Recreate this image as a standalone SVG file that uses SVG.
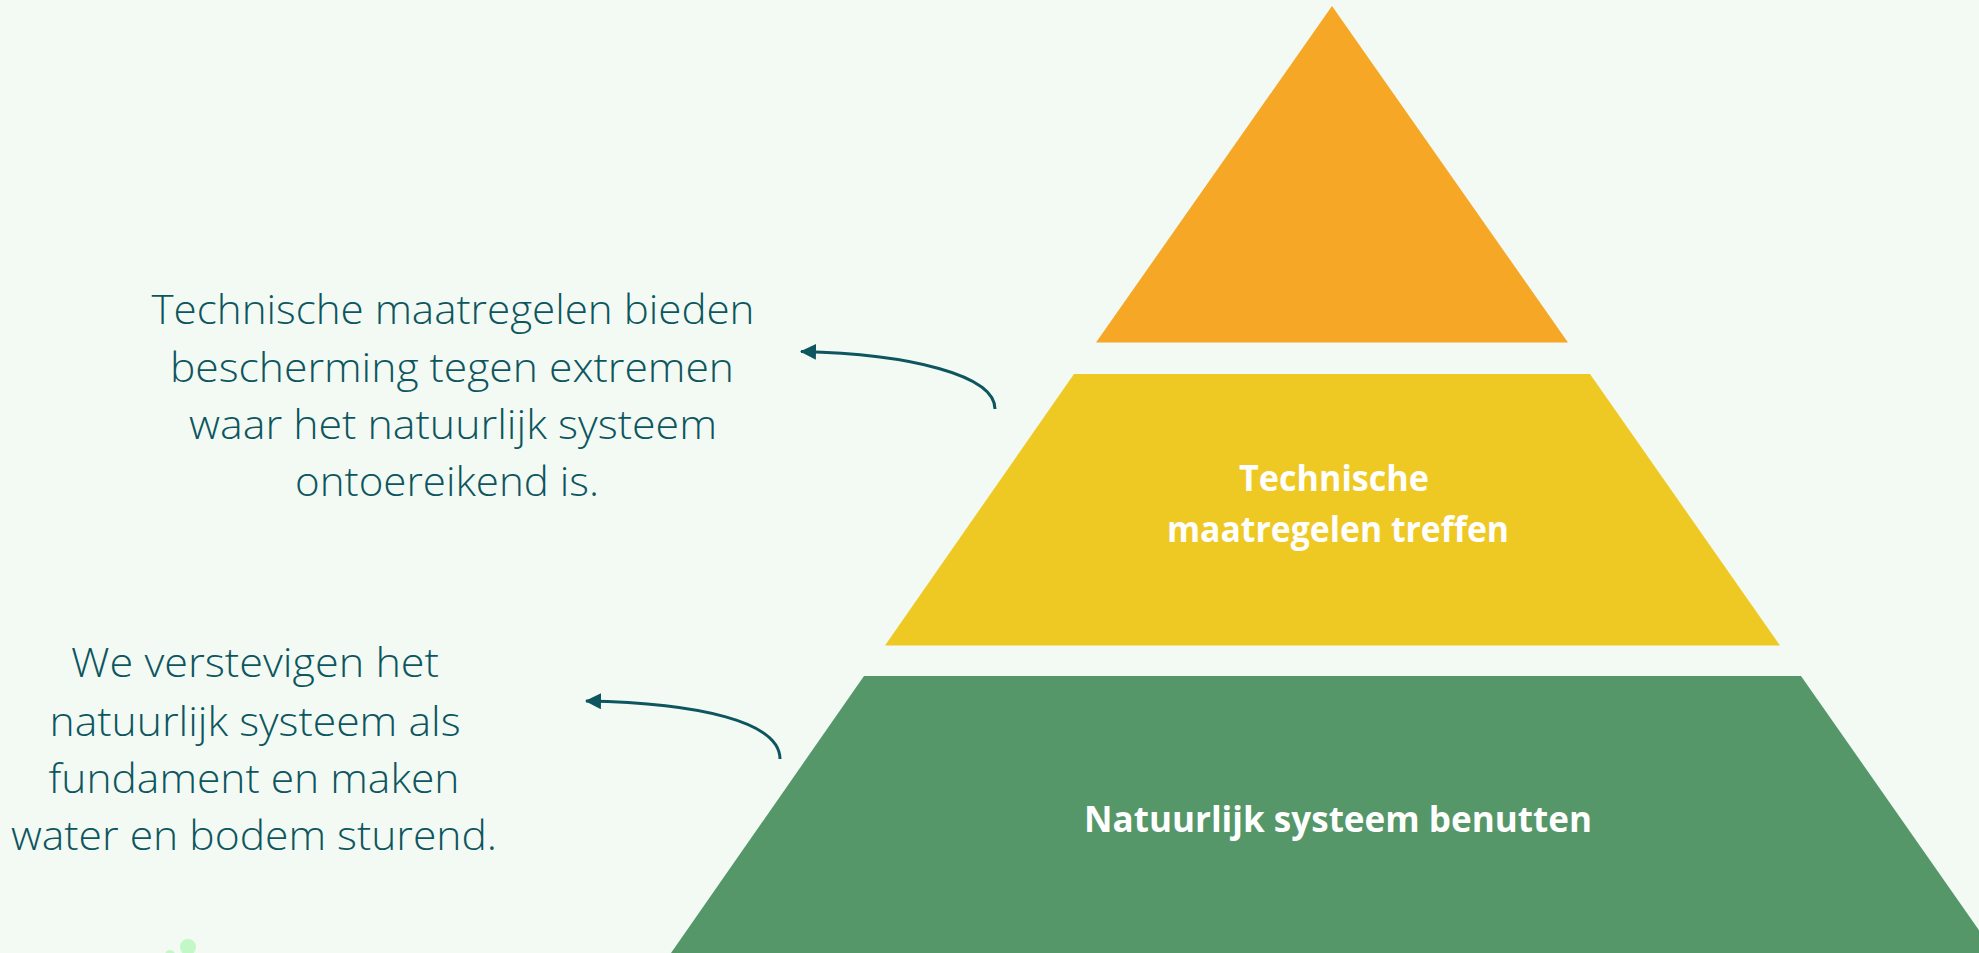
<svg xmlns="http://www.w3.org/2000/svg" width="1979" height="953" viewBox="0 0 1979 953">
<style>
.note{font-family:"Open Sans",Lato,"Liberation Sans",sans-serif;font-weight:300;font-size:40px;fill:#0D5660;text-anchor:middle}
.lbl{font-family:"Open Sans",Lato,"Liberation Sans",sans-serif;font-weight:700;font-size:36px;fill:#FFFFFF;text-anchor:middle}
.conn{fill:none;stroke:#0D5660;stroke-width:3}
</style>
<defs>
<marker id="ah" markerWidth="16" markerHeight="16" refX="15" refY="8" orient="auto" markerUnits="userSpaceOnUse">
<path d="M0,0 L16,8 L0,16 Z" fill="#0D5660"/>
</marker>
</defs>
<rect x="0" y="0" width="1979" height="953" fill="#F3FAF3"/>
<g id="decor">
<circle cx="188" cy="947" r="8" fill="#C2F7C6"/>
<circle cx="170" cy="955" r="5" fill="#C2F7C6"/>
</g>
<g id="top-tier">
<polygon points="1332,6 1568,342.5 1096,342.5" fill="#F5A725"/>
</g>
<g id="middle-tier">
<polygon points="1074,374 1590,374 1780,645.5 885,645.5" fill="#EFC923"/>
<text class="lbl" x="1334" y="491" textLength="190" lengthAdjust="spacingAndGlyphs">Technische</text>
<text class="lbl" x="1338" y="542" textLength="342" lengthAdjust="spacingAndGlyphs">maatregelen treffen</text>
</g>
<g id="bottom-tier">
<polygon points="864,676 1801,676 1995,953 671,953" fill="#559768"/>
<text class="lbl" x="1338" y="832" textLength="508" lengthAdjust="spacingAndGlyphs">Natuurlijk systeem benutten</text>
</g>
<g id="note-technical">
<text class="note" x="453" y="324" textLength="603" lengthAdjust="spacingAndGlyphs">Technische maatregelen bieden</text>
<text class="note" x="452" y="381.5" textLength="564" lengthAdjust="spacingAndGlyphs">bescherming tegen extremen</text>
<text class="note" x="453" y="438.5" textLength="528" lengthAdjust="spacingAndGlyphs">waar het natuurlijk systeem</text>
<text class="note" x="447" y="496" textLength="304" lengthAdjust="spacingAndGlyphs">ontoereikend is.</text>
</g>
<g id="note-natural">
<text class="note" x="255" y="677" textLength="368" lengthAdjust="spacingAndGlyphs">We verstevigen het</text>
<text class="note" x="255" y="735.5" textLength="411" lengthAdjust="spacingAndGlyphs">natuurlijk systeem als</text>
<text class="note" x="254" y="793" textLength="411" lengthAdjust="spacingAndGlyphs">fundament en maken</text>
<text class="note" x="254" y="850" textLength="486" lengthAdjust="spacingAndGlyphs">water en bodem sturend.</text>
</g>
<g id="connectors">
<path class="conn" d="M995,409 C995,375 910,354 801,351.5" marker-end="url(#ah)"/>
<path class="conn" d="M780,759 C780,722 700,703 586,701" marker-end="url(#ah)"/>
</g>
</svg>
